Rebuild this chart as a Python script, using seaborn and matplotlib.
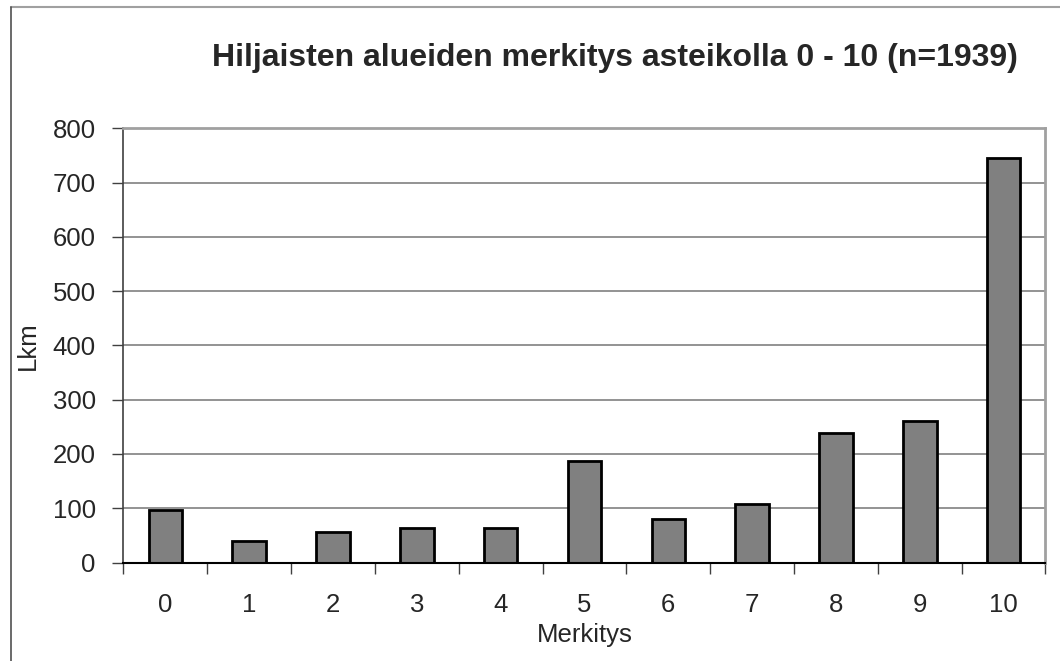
import matplotlib
matplotlib.use("Agg")
import matplotlib.pyplot as plt
from matplotlib.lines import Line2D
from matplotlib.ticker import MultipleLocator, FixedLocator
import seaborn as sns
import pandas as pd

# data
merkitys = ["0", "1", "2", "3", "4", "5", "6", "7", "8", "9", "10"]
lkm = [96, 39, 57, 63, 63, 187, 81, 108, 239, 261, 745]

title = "Hiljaisten alueiden merkitys asteikolla 0 - 10 (n=1939)"

sns.set_style("white")
plt.rcParams['font.family'] = ['Liberation Sans', 'DejaVu Sans']

df = pd.DataFrame({"Merkitys": merkitys, "Lkm": lkm})

fig = plt.figure(figsize=(10.6, 6.61), dpi=100)
ax = fig.add_axes([0.1165, 0.149, 0.8698, 0.657])

sns.barplot(data=df, x="Merkitys", y="Lkm", order=merkitys, color="#808080",
            saturation=1, width=0.4, edgecolor="black", linewidth=2, ax=ax)

ax.set_xlim(-0.5, len(merkitys) - 0.5)
ax.set_ylim(0, 800)
ax.yaxis.set_major_locator(MultipleLocator(100))
ax.grid(axis="y", color="#808080", linewidth=1.2)
ax.set_axisbelow(True)

# ticks between categories like in the original
ax.xaxis.set_minor_locator(FixedLocator([i - 0.5 for i in range(len(merkitys) + 1)]))
ax.tick_params(axis="x", which="major", length=0, pad=22, labelsize=18.5)
ax.tick_params(axis="x", which="minor", length=8, width=1, color="#404040", direction="out", bottom=True)
ax.tick_params(axis="y", which="major", length=8, width=1, color="#404040", direction="out", left=True,
               pad=12, labelsize=18.5)

for side in ["top", "right"]:
    ax.spines[side].set_color("#a0a0a0")
    ax.spines[side].set_linewidth(2)
ax.spines["left"].set_color("#404040")
ax.spines["left"].set_linewidth(1.2)
ax.spines["bottom"].set_color("black")
ax.spines["bottom"].set_linewidth(1.5)

ax.set_xlabel("Merkitys", fontsize=18.5, labelpad=4)
ax.set_ylabel("Lkm", fontsize=18.5, labelpad=9)

fig.text(0.58, 0.912, title, ha="center", va="center", fontsize=23, fontweight="bold")

# outer chart frame (only top and left are visible in the reference)
fig.add_artist(Line2D([11 / 1060, 1], [1 - 7 / 661, 1 - 7 / 661], transform=fig.transFigure,
                      color="#a0a0a0", linewidth=1.5))
fig.add_artist(Line2D([11 / 1060, 11 / 1060], [0, 1 - 7 / 661], transform=fig.transFigure,
                      color="#505050", linewidth=1.2))

fig.savefig("out.png", dpi=100)
